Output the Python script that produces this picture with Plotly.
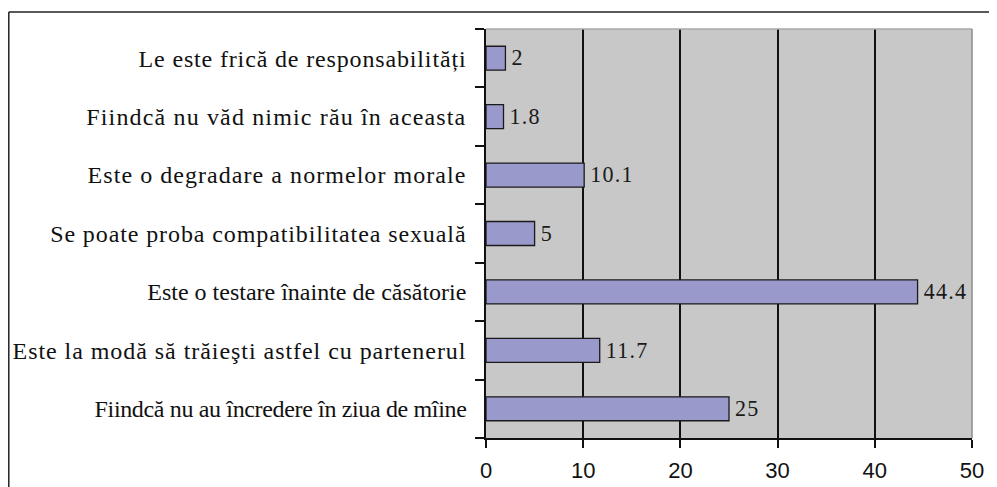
import plotly.graph_objects as go

categories = [
    "Le este frică de responsabilități",
    "Fiindcă nu văd nimic rău în aceasta",
    "Este o degradare a normelor morale",
    "Se poate proba compatibilitatea sexuală",
    "Este o testare înainte de căsătorie",
    "Este la modă să trăieşti astfel cu partenerul",
    "Fiindcă nu au încredere în ziua de mîine",
]
values = [2, 1.8, 10.1, 5, 44.4, 11.7, 25]
value_labels = ["2", "1.8", "10.1", "5", "44.4", "11.7", "25"]
x_ticks = [0, 10, 20, 30, 40, 50]

# letter spacing (px) per category label, to mimic the loose typesetting of the original
label_spacing = [0.85, 1.15, 1.05, 0.9, 0.0, 0.95, -0.35]

# page body has an 8px margin, so the figure is drawn at (8, 8)
OFF = 8
W, H = 997 - OFF, 487 - OFF
PL, PR, PT, PB = 486, 972, 29, 438          # plot area in page pixels
L, T = PL - OFF, PT - OFF
R = W - (PR - OFF)
B = H - (PB - OFF)

tick_text = [f'<span style="letter-spacing:{s}px">{c}</span>' for c, s in zip(categories, label_spacing)]
bar_text = [f'<span style="letter-spacing:1.3px">\u200a{t}</span>' for t in value_labels]

fig = go.Figure()
fig.add_trace(go.Bar(
    y=categories, x=values, orientation="h",
    marker=dict(color="#9999cc", line=dict(color="#1a1a1a", width=1.3)),
    width=0.41,
    text=bar_text, textposition="outside",
    textfont=dict(family="Liberation Serif", size=23, color="#1a1a1a"),
    cliponaxis=False,
))

pw = PR - PL
ph = PB - PT
def px_x(p):
    return (p - PL) / pw
def px_y(p):
    return (PB - p) / ph

shapes = [
    dict(type="line", xref="paper", yref="paper", x0=px_x(8.8), x1=px_x(1000), y0=px_y(12), y1=px_y(12),
         line=dict(color="#222222", width=1.5)),
    dict(type="line", xref="paper", yref="paper", x0=px_x(8.8), x1=px_x(8.8), y0=px_y(12), y1=px_y(495),
         line=dict(color="#222222", width=1.5)),
    dict(type="line", xref="paper", yref="paper", x0=0, x1=1, y0=1, y1=1,
         line=dict(color="#a8a8a8", width=1.5)),
    dict(type="line", xref="paper", yref="paper", x0=1, x1=1, y0=0, y1=1,
         line=dict(color="#8c8c8c", width=1.5)),
]

fig.update_layout(
    width=W, height=H,
    margin=dict(l=L, r=R, t=T, b=B, pad=0, autoexpand=False),
    paper_bgcolor="#ffffff",
    plot_bgcolor="#c8c8c8",
    showlegend=False,
    shapes=shapes,
    xaxis=dict(
        range=[0, 50], tickvals=x_ticks, ticktext=[str(v) for v in x_ticks],
        showgrid=True, gridcolor="#111111", gridwidth=1.5,
        showline=True, linecolor="#111111", linewidth=1.5,
        ticks="outside", ticklen=8, tickcolor="#111111", tickwidth=1.5,
        tickfont=dict(family="Liberation Sans", size=22, color="#111111"),
        ticklabelstandoff=4,
        zeroline=False, fixedrange=True, automargin=False,
    ),
    yaxis=dict(
        type="category", autorange="reversed",
        categoryorder="array", categoryarray=categories,
        tickmode="array", tickvals=categories, ticktext=tick_text,
        showline=True, linecolor="#111111", linewidth=1.5,
        ticks="outside", ticklen=9, tickcolor="#111111", tickwidth=1.5,
        tickson="boundaries",
        tickfont=dict(family="Liberation Serif", size=24, color="#111111"),
        ticklabelstandoff=13,
        showgrid=False, zeroline=False, fixedrange=True, automargin=False,
    ),
)

fig.write_html("out.html")
